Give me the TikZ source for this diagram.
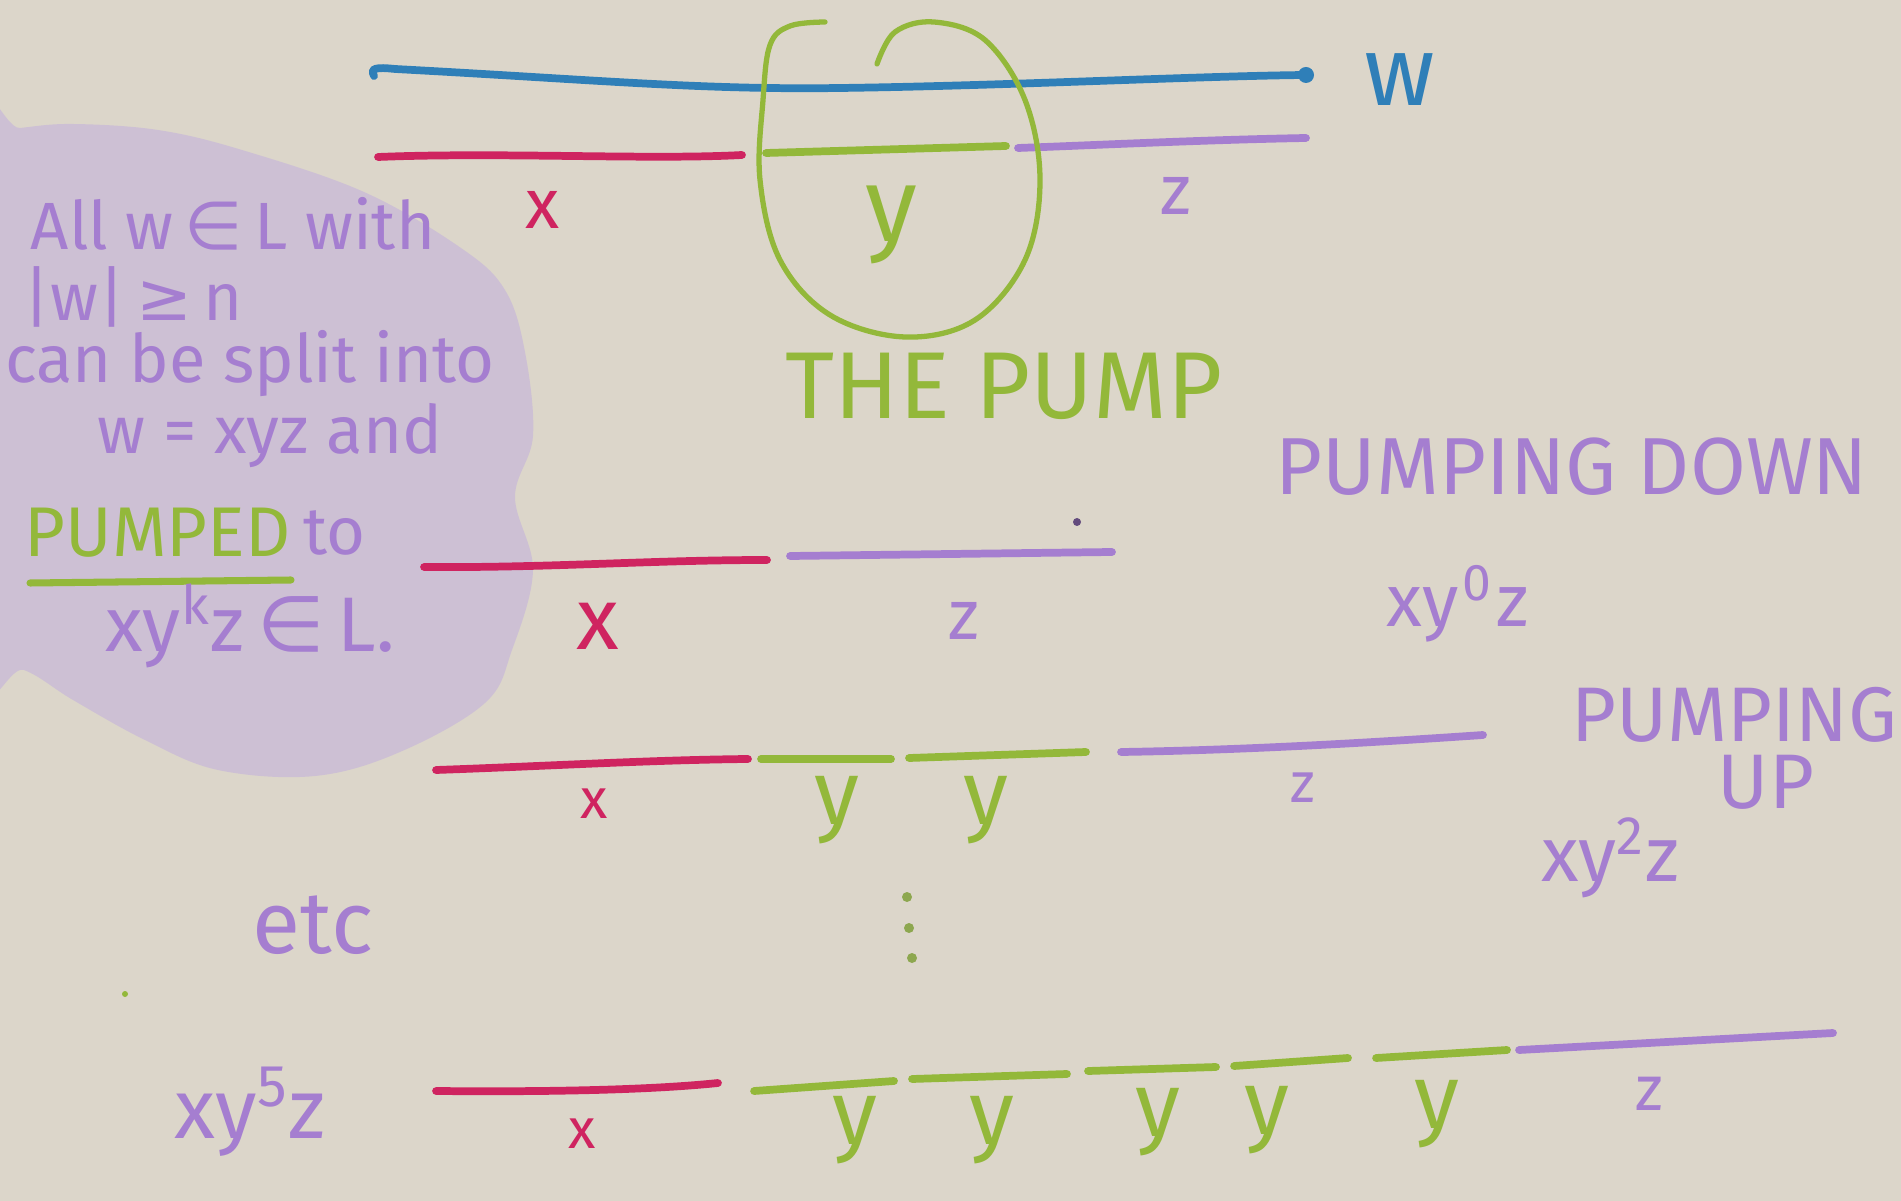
\documentclass[tikz,border=0pt]{standalone}
\usepackage{fontspec}
\setmainfont{Fira Sans}
\newfontfamily\symf{DejaVu Sans}
\definecolor{paper}{HTML}{DCD6CA}
\definecolor{cblue}{HTML}{2F7FB8}
\definecolor{cpink}{HTML}{CF2460}
\definecolor{cgreen}{HTML}{93B83A}
\definecolor{cpurple}{HTML}{A57ED0}
\definecolor{cblob}{HTML}{C9B9D8}
\begin{document}
\begin{tikzpicture}[x=0.01cm,y=-0.01cm,
  pen/.style={line width=2.2pt,line cap=round},
  bluepen/.style={pen,draw=cblue},
  pinkpen/.style={pen,draw=cpink},
  greenpen/.style={pen,draw=cgreen},
  purplepen/.style={pen,draw=cpurple},
  lbl/.style={inner sep=0pt},
  txt/.style={lbl,text=cpurple,font=\fontsize{19}{22}\selectfont},
  small/.style={lbl,font=\fontsize{16}{18}\selectfont},
  tally/.style={lbl,text=cgreen,font=\fontsize{26}{30}\selectfont},
  caps/.style={lbl,text=cpurple,font=\fontsize{23}{27}\selectfont}]
\useasboundingbox (0,0) rectangle (1901,1201);
\fill[paper] (0,0) rectangle (1901,1201);
% lavender cloud
\begin{scope}
\clip (0,0) rectangle (1901,1201);
\fill[cblob,opacity=0.75] plot[smooth cycle,tension=0.6] coordinates {
 (-30,135) (20,128) (73,124) (158,130) (242,150) (364,192) (461,248) (505,290)
 (525,352) (533,436) (515,497) (533,570) (512,650) (485,703) (400,752)
 (315,776) (218,770) (145,740) (73,700) (24,670) (-30,660)};
\end{scope}
% row 1: w split into x y z
\draw[bluepen] (374,76) .. controls (370,68) and (376,67) .. (395,69)
  .. controls (600,80) and (700,90) .. (840,88)
  .. controls (1000,86) and (1200,76) .. (1306,75);
\fill[cblue] (1306,75) circle (8);
\node[lbl,text=cblue,font=\fontsize{28}{32}\selectfont] (w) at (1400,80) {w};
\draw[pinkpen] (378,157) .. controls (500,152) and (650,160) .. (742,155);
\draw[greenpen] (766,153) -- (1006,146);
\draw[purplepen] (1018,148) .. controls (1100,145) and (1200,140) .. (1306,138);
\draw[cgreen,line width=1.5pt,line cap=round] plot[smooth,tension=0.6] coordinates {
 (877,64) (895,32) (934,22) (985,40) (1025,100) (1040,180) (1025,260)
 (975,320) (905,337) (830,315) (780,260) (760,180) (763,100) (770,45)
 (790,26) (825,22)};
\node[lbl,text=cpink,font=\fontsize{20}{24}\selectfont] (x1) at (543,210) {x};
\node[lbl,text=cgreen,font=\fontsize{30}{34}\selectfont] (y1) at (891,225) {y};
\node[lbl,text=cpurple,font=\fontsize{20}{24}\selectfont] (z1) at (1176,196) {z};
\node[lbl,text=cgreen,font=\fontsize{27}{32}\selectfont] (pump) at (1004,386) {THE PUMP};
% explanatory text in the cloud
\node[txt] (l1) at (233,224) {All w\,{\symf ∈}\,L with};
\node[txt] (l2) at (133,297) {|w|\,{\symf ≥}\,n};
\node[txt] (l3) at (250,364) {can be split into};
\node[txt] (l4) at (270,436) {w = xyz and};
\node[lbl,anchor=west,text=cgreen,font=\fontsize{20}{24}\selectfont] (l5) at (24,533) {PUMPED};
\node[txt,anchor=west] (l5b) at (303,533) {to};
\draw[greenpen,line width=2pt] (30,583) -- (291,580);
\node[lbl,text=cpurple,font=\fontsize{22}{26}\selectfont] (l6) at (250,626) {xy\textsuperscript{k}z\,{\symf ∈}\,L.};
% row 2: pumping down
\draw[pinkpen] (424,567) .. controls (550,568) and (650,560) .. (767,560);
\draw[purplepen] (790,556) -- (1112,552);
\fill[cpurple!60!black] (1077,522) circle (4);
\node[lbl,text=cpink,font=\fontsize{25}{30}\selectfont] (x2) at (598,626) {x};
\node[lbl,text=cpurple,font=\fontsize{20}{24}\selectfont] (z2) at (964,621) {z};
\node[caps] (down) at (1572,467) {PUMPING DOWN};
\node[lbl,text=cpurple,font=\fontsize{21}{24}\selectfont] (xy0z) at (1458,604) {xy\kern1pt\textsuperscript{0}\kern1pt z};
% row 3: pumping up
\draw[pinkpen] (436,770) .. controls (550,766) and (650,760) .. (748,759);
\draw[greenpen] (761,759) -- (891,759);
\draw[greenpen] (909,758) -- (1086,752);
\draw[purplepen] (1121,752) .. controls (1250,750) and (1380,742) .. (1483,735);
\node[small,text=cpink] (x3) at (594,804) {x};
\node[tally] (y3a) at (837,810) {y};
\node[tally] (y3b) at (986,810) {y};
\node[small,text=cpurple] (z3) at (1303,788) {z};
\node[lbl,text=cpurple,font=\fontsize{22}{26}\selectfont] (up1) at (1734,715) {PUMPING};
\node[lbl,text=cpurple,font=\fontsize{22}{26}\selectfont] (up2) at (1766,782) {UP};
\node[lbl,text=cpurple,font=\fontsize{22}{26}\selectfont] (xy2z) at (1610,858) {xy\textsuperscript{2}z};
% etc and dots
\node[lbl,text=cpurple,font=\fontsize{25}{30}\selectfont] (etc) at (313,925) {etc};
\fill[cgreen!70!gray] (907,897) circle (5) (909,928) circle (5) (912,958) circle (5);
\fill[cgreen] (125,994) circle (3);
% row 5: xy^5z
\node[lbl,text=cpurple,font=\fontsize{24}{28}\selectfont] (xy5z) at (250,1112) {xy\textsuperscript{5}z};
\draw[pinkpen] (436,1091) .. controls (550,1092) and (650,1090) .. (718,1083);
\draw[greenpen] (754,1091) -- (894,1081);
\draw[greenpen] (912,1079) -- (1067,1074);
\draw[greenpen] (1088,1071) -- (1216,1067);
\draw[greenpen] (1234,1066) -- (1348,1058);
\draw[greenpen] (1376,1058) -- (1507,1050);
\draw[purplepen] (1519,1050) -- (1833,1033);
\node[small,text=cpink] (x5) at (582,1134) {x};
\node[tally] (y5a) at (855,1130) {y};
\node[tally] (y5b) at (992,1130) {y};
\node[tally] (y5c) at (1158,1122) {y};
\node[tally] (y5d) at (1267,1120) {y};
\node[tally] (y5e) at (1437,1114) {y};
\node[lbl,text=cpurple,font=\fontsize{18}{22}\selectfont] (z5) at (1649,1094) {z};
\end{tikzpicture}
\end{document}
